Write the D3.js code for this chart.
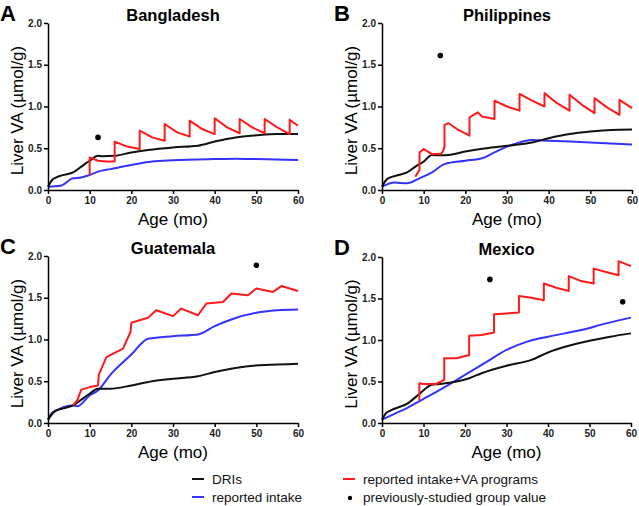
<!DOCTYPE html>
<html>
<head>
<meta charset="utf-8">
<script src="https://cdn.jsdelivr.net/npm/d3@7"></script>
<style>
  body { margin: 0; background: #fff; }
  svg { font-family: "Liberation Sans", Arial, sans-serif; }
</style>
</head>
<body>
<div id="chart"></div>
<script>
// values: [age (mo), liver VA (umol/g)]
var bangladeshDRI = [[0,0.04],[1,0.12],[2,0.15],[3,0.17],[6,0.21],[8,0.28],[10,0.35],[12,0.41],[13,0.405],[16,0.41],[20,0.45],[24,0.48],[30,0.51],[36,0.53],[40,0.58],[45,0.63],[50,0.655],[55,0.67],[60,0.67]];
var bangladeshIntake = [[0,0.04],[3,0.05],[6,0.14],[8,0.15],[10,0.18],[12,0.22],[15,0.25],[20,0.30],[25,0.34],[30,0.355],[40,0.37],[45,0.375],[50,0.37],[60,0.36]];
var bangladeshProgram = [[10,0.18],[10,0.39],[12,0.35],[14,0.34],[16,0.34],[16,0.58],[19,0.52],[22,0.49],[22,0.71],[25,0.63],[28,0.59],[28,0.79],[31,0.69],[34,0.64],[34,0.83],[37,0.73],[40,0.67],[40,0.86],[43,0.75],[46,0.68],[46,0.85],[49,0.75],[52,0.68],[52,0.85],[55,0.75],[58,0.67],[58,0.84],[60,0.77]];
var bangladeshStudied = [[12,0.63]];

var philippinesDRI = [[0,0.04],[1,0.12],[2,0.15],[4,0.18],[6,0.21],[8,0.28],[10,0.34],[12,0.42],[14,0.415],[16,0.42],[20,0.46],[25,0.50],[30,0.53],[36,0.57],[40,0.62],[45,0.67],[50,0.70],[55,0.72],[60,0.725]];
var philippinesIntake = [[0,0.04],[3,0.09],[6,0.08],[9,0.14],[12,0.21],[15,0.31],[20,0.35],[24,0.38],[27,0.45],[30,0.52],[33,0.57],[36,0.60],[40,0.59],[50,0.57],[60,0.545]];
var philippinesProgram = [[8,0.16],[9,0.24],[9,0.45],[10,0.49],[11,0.46],[12,0.43],[14,0.43],[14.6,0.46],[15,0.52],[15,0.78],[16,0.80],[18,0.73],[21,0.65],[21,0.87],[23,0.93],[24,0.88],[27,0.85],[27,1.07],[30,1.0],[33,0.95],[33,1.15],[36,1.07],[39,1.0],[39,1.16],[42,1.04],[45,0.95],[45,1.14],[48,1.02],[51,0.92],[51,1.10],[54,0.99],[57,0.90],[57,1.08],[60,0.98]];
var philippinesStudied = [[14,1.61]];

var guatemalaDRI = [[0,0.04],[1,0.12],[2,0.15],[4,0.18],[6,0.21],[8,0.28],[10,0.35],[12,0.41],[15,0.41],[20,0.45],[25,0.50],[30,0.53],[36,0.56],[40,0.61],[45,0.66],[50,0.69],[55,0.70],[60,0.71]];
var guatemalaIntake = [[0,0.04],[2,0.15],[6,0.21],[7,0.20],[10,0.33],[12,0.39],[15,0.58],[20,0.82],[24,1.01],[30,1.04],[36,1.06],[40,1.16],[44,1.24],[50,1.32],[55,1.35],[60,1.36]];
var guatemalaProgram = [[6,0.21],[7,0.27],[8,0.40],[10,0.43],[12,0.45],[12.2,0.58],[14,0.79],[16,0.84],[18,0.89],[19.8,1.09],[20,1.2],[24,1.26],[26,1.35],[30,1.28],[32,1.37],[36,1.29],[38,1.43],[42,1.45],[44,1.55],[48,1.53],[50,1.61],[54,1.57],[56,1.64],[60,1.58]];
var guatemalaStudied = [[50,1.89]];

var mexicoDRI = [[0,0.04],[1,0.12],[2,0.15],[4,0.19],[6,0.23],[9,0.35],[12,0.46],[14,0.47],[18,0.50],[21,0.54],[24,0.60],[30,0.69],[36,0.76],[40,0.85],[45,0.93],[50,0.99],[55,1.04],[60,1.08]];
var mexicoIntake = [[0,0.04],[3,0.11],[6,0.18],[10,0.29],[15,0.43],[20,0.58],[25,0.73],[30,0.88],[35,0.98],[40,1.04],[48,1.12],[54,1.20],[60,1.27]];
var mexicoProgram = [[9,0.27],[9,0.48],[10,0.47],[13,0.47],[15,0.52],[15,0.78],[18,0.78],[21,0.82],[21,1.05],[24,1.06],[27,1.09],[27,1.31],[30,1.32],[33,1.33],[33,1.53],[36,1.51],[39,1.48],[39,1.68],[42,1.63],[45,1.59],[45,1.77],[48,1.71],[51,1.68],[51,1.86],[54,1.82],[57,1.78],[57,1.95],[60,1.89]];
var mexicoStudied = [[26,1.73],[58,1.46]];

var xTicks = [0, 10, 20, 30, 40, 50, 60];
var yTicks = [0, 0.5, 1.0, 1.5, 2.0];

var colDRI = "#111111";
var colIntake = "#3333ff";
var colProgram = "#ff1a1a";

var panels = [
  {letter: "A", title: "Bangladesh", left: 48, right: 298, top: 23, bottom: 190,
   dri: bangladeshDRI, intake: bangladeshIntake, program: bangladeshProgram, studied: bangladeshStudied},
  {letter: "B", title: "Philippines", left: 382, right: 632, top: 23, bottom: 190,
   dri: philippinesDRI, intake: philippinesIntake, program: philippinesProgram, studied: philippinesStudied},
  {letter: "C", title: "Guatemala", left: 48, right: 298, top: 256, bottom: 423,
   dri: guatemalaDRI, intake: guatemalaIntake, program: guatemalaProgram, studied: guatemalaStudied},
  {letter: "D", title: "Mexico", left: 382, right: 631, top: 257, bottom: 423,
   dri: mexicoDRI, intake: mexicoIntake, program: mexicoProgram, studied: mexicoStudied}
];

var svg = d3.select("#chart")
  .append("svg")
  .attr("width", 639)
  .attr("height", 506);

panels.forEach(function(p) {
  var x = d3.scaleLinear().domain([0, 60]).range([p.left, p.right]);
  var y = d3.scaleLinear().domain([0, 2]).range([p.bottom, p.top]);

  var g = svg.append("g");

  var smooth = d3.line()
    .x(d => x(d[0]))
    .y(d => y(d[1]))
    .curve(d3.curveMonotoneX);
  var straight = d3.line()
    .x(d => x(d[0]))
    .y(d => y(d[1]));

  g.append("path").attr("d", smooth(p.intake))
    .attr("fill", "none").attr("stroke", colIntake).attr("stroke-width", 2);
  g.append("path").attr("d", smooth(p.dri))
    .attr("fill", "none").attr("stroke", colDRI).attr("stroke-width", 2);
  g.append("path").attr("d", straight(p.program))
    .attr("fill", "none").attr("stroke", colProgram).attr("stroke-width", 2)
    .attr("stroke-linejoin", "round");

  g.selectAll(".dot")
    .data(p.studied)
    .enter()
    .append("circle")
    .attr("cx", d => x(d[0]))
    .attr("cy", d => y(d[1]))
    .attr("r", 2.8)
    .attr("fill", "#000");

  var xAxis = g.append("g")
    .attr("transform", `translate(0, ${p.bottom})`)
    .call(d3.axisBottom(x).tickValues(xTicks).tickSize(4).tickPadding(3).tickSizeOuter(0));
  var yAxis = g.append("g")
    .attr("transform", `translate(${p.left}, 0)`)
    .call(d3.axisLeft(y).tickValues(yTicks).tickFormat(d3.format(".1f")).tickSize(4).tickPadding(2).tickSizeOuter(0));

  [xAxis, yAxis].forEach(function(a) {
    a.select(".domain").attr("stroke", "#000").attr("stroke-width", 1.5);
    a.selectAll(".tick line").attr("stroke", "#000").attr("stroke-width", 1.5);
    a.selectAll(".tick text")
      .attr("fill", "#222")
      .style("font-size", "10px")
      .style("font-weight", "bold")
      .style("font-family", "'Liberation Sans', Arial, sans-serif");
  });

  svg.append("text")
    .attr("x", (p.left + p.right) / 2)
    .attr("y", p.top - 2)
    .style("text-anchor", "middle")
    .style("font-weight", "bold")
    .style("font-size", "16.5px")
    .text(p.title);

  svg.append("text")
    .attr("x", p.left - 48)
    .attr("y", p.top - 2)
    .style("font-weight", "bold")
    .style("font-size", "22px")
    .text(p.letter);

  svg.append("text")
    .attr("x", (p.left + p.right) / 2)
    .attr("y", p.bottom + 35)
    .style("text-anchor", "middle")
    .style("font-size", "17px")
    .text("Age (mo)");

  svg.append("text")
    .attr("transform", "rotate(-90)")
    .attr("x", -((p.top + p.bottom) / 2 + 4))
    .attr("y", p.left - 25)
    .style("text-anchor", "middle")
    .style("font-size", "17px")
    .text("Liver VA (\u00b5mol/g)");
});

// legend
var legendItems = [
  {label: "DRIs", kind: "line", color: colDRI, x: 192, y: 479},
  {label: "reported intake", kind: "line", color: colIntake, x: 192, y: 497},
  {label: "reported intake+VA programs", kind: "line", color: colProgram, x: 343, y: 479},
  {label: "previously-studied group value", kind: "dot", color: "#000", x: 343, y: 497}
];

var legend = svg.append("g");
legendItems.forEach(function(it) {
  if (it.kind === "line") {
    legend.append("line")
      .attr("x1", it.x).attr("x2", it.x + 12)
      .attr("y1", it.y).attr("y2", it.y)
      .attr("stroke", it.color).attr("stroke-width", 2);
  } else {
    legend.append("circle")
      .attr("cx", it.x + 7).attr("cy", it.y + 1).attr("r", 2.2)
      .attr("fill", it.color);
  }
  legend.append("text")
    .attr("x", it.x + 20)
    .attr("y", it.y + 5)
    .style("font-size", "13.5px")
    .attr("fill", "#111")
    .text(it.label);
});
</script>
</body>
</html>
